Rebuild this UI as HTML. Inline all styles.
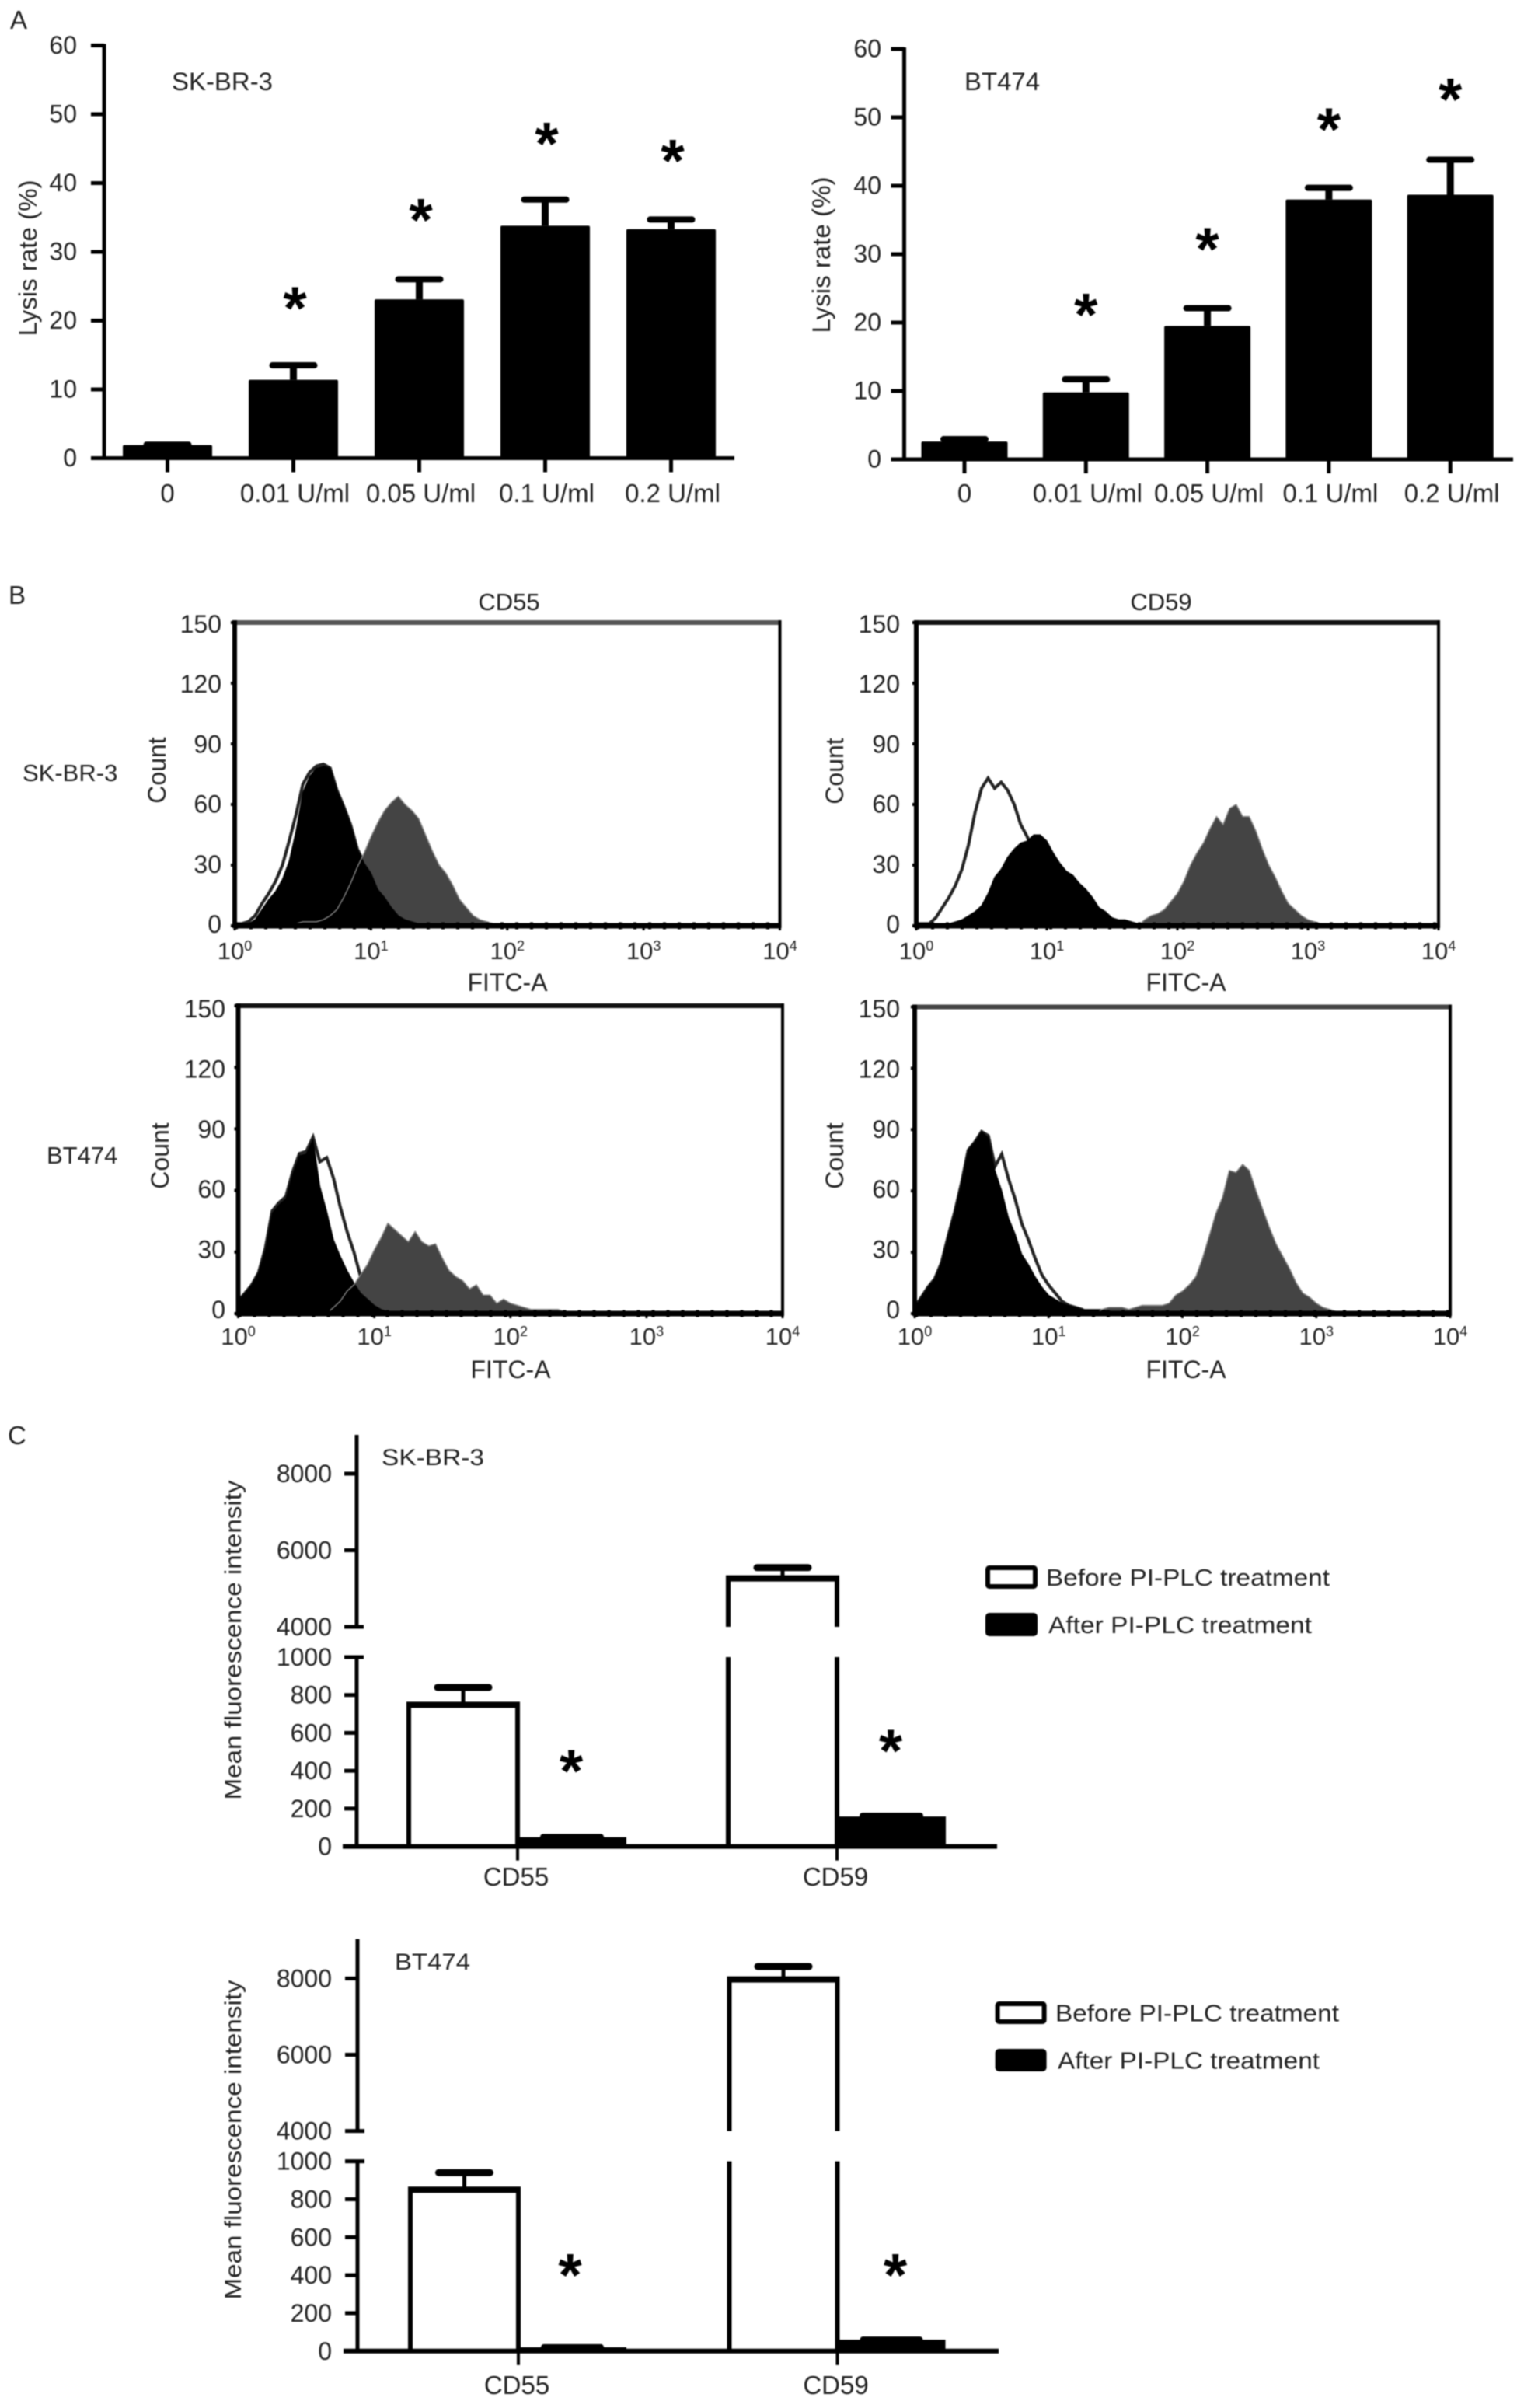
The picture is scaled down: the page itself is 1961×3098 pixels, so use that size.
<!DOCTYPE html>
<html lang="en">
<head>
<meta charset="utf-8">
<title>Lysis rate and CD55/CD59 expression after PI-PLC treatment</title>
<style>
html,body{margin:0;padding:0;background:#fff;width:1961px;height:3098px;overflow:hidden}
svg{display:block;filter:blur(0.7px)}
text{font-family:"Liberation Sans",Arial,sans-serif;fill:#222}
</style>
</head>
<body>
<svg id="figure" xmlns="http://www.w3.org/2000/svg" width="1961" height="3098" viewBox="0 0 1961 3098"></svg>
<script>
/* ---------- Panel A data ---------- */
const doseCategories = ["0", "0.01 U/ml", "0.05 U/ml", "0.1 U/ml", "0.2 U/ml"];
const lysisTicks = [0, 10, 20, 30, 40, 50, 60];
const lysisSkbr3 = [1.9, 11.4, 23.1, 33.8, 33.3];
const lysisSkbr3Err = [1.95, 13.5, 26.0, 37.6, 34.7];
const lysisSkbr3Stars = [null, 22.9, 35.7, 46.8, 44.3];
const lysisBt474 = [2.6, 9.8, 19.5, 38.0, 38.7];
const lysisBt474Err = [2.95, 11.7, 22.1, 39.7, 43.8];
const lysisBt474Stars = [null, 22.2, 31.8, 49.3, 53.7];

/* ---------- Panel B data: counts in 0.05-decade bins starting at 10^0 ---------- */
const countTicks = [0, 30, 60, 90, 120, 150];
const decadeTicks = [0, 1, 2, 3, 4];
const skCd55Outline = [1,1,2,5,11,16,22,30,42,55,70,76,79,80,78,67,59,50,38,31,26,18,14,9,5,3,2,1,1];
const skCd55Black = [1,1,1,3,8,13,17,23,32,47,66,74,78,79,78,67,59,50,38,31,26,18,14,9,5,3,2,1,1];
const skCd55Gray = [0,0,0,0,0,0,0,1,1,1,2,2,2,3,5,8,14,21,29,36,44,51,57,61,64,60,57,53,45,37,30,26,20,13,9,5,3,2,1,1];
const skCd59Outline = [1,1,1,4,9,14,20,28,40,56,68,73,68,71,67,60,50,44,36,28,20,14,9,6,4,2,1,1];
const skCd59Black = [1,1,1,1,1,1,2,3,5,7,10,16,24,28,34,38,41,42,45,45,42,36,31,27,25,21,18,14,9,7,4,3,3,2,1,1];
const skCd59Gray = [0,0,0,0,0,0,0,0,0,0,0,0,0,0,0,0,0,0,0,0,0,0,0,0,0,0,0,0,0,0,0,0,0,0,0,3,5,6,8,12,16,22,30,36,41,48,54,50,58,60,54,54,47,38,30,24,17,11,8,5,3,2,1,1];
const btCd55Outline = [6,10,14,20,32,50,54,57,69,78,79,86,74,76,66,52,40,30,18,11,7,3,1];
const btCd55Black = [6,10,14,20,31,49,53,56,68,77,78,85,62,50,36,28,21,15,10,7,4,2,1];
const btCd55Gray = [0,0,0,0,0,0,0,0,0,0,0,0,0,0,3,6,11,14,19,24,31,37,44,41,38,35,40,35,33,34,27,21,18,16,12,14,9,9,5,7,5,4,3,2,2,2,2,2,1];
const btCd59Outline = [3,8,13,17,25,38,50,64,80,84,89,87,72,78,66,56,44,36,27,19,14,10,6,4,3,2];
const btCd59Black = [3,8,13,17,25,38,50,64,80,84,89,86,70,60,47,39,29,24,18,13,9,7,5,4,3,2,2,2,2,1];
const btCd59Gray = [0,0,0,0,0,0,0,0,0,0,0,0,0,0,0,0,0,0,0,0,0,0,0,0,0,0,0,0,2,3,3,3,2,3,4,4,4,4,5,9,11,14,18,27,38,49,57,70,69,73,70,60,51,42,34,28,22,15,10,8,5,3,2,1];

/* ---------- Panel C data ---------- */
const markerCategories = ["CD55", "CD59"];
const mfiLowerTicks = [0, 200, 400, 600, 800, 1000];
const mfiUpperTicks = [4000, 6000, 8000];
const skBefore = [748, 5266];
const skBeforeErr = [840, 5548];
const skAfter = [49, 158];
const skAfterErr = [50, 162];
const skAfterStars = [438, 545];
const btBefore = [850, 7975];
const btBeforeErr = [940, 8315];
const btAfter = [20, 60];
const btAfterErr = [20, 60];
const btAfterStars = [439, 439];
const legendLabels = ["Before PI-PLC treatment", "After PI-PLC treatment"];

/* ---------- Helpers ---------- */
const NS = "http://www.w3.org/2000/svg";
const root = document.getElementById("figure");
const INK = "#000";

function add(parent, tag, attrs, name) {
  const el = document.createElementNS(NS, tag);
  for (const k in attrs) el.setAttribute(k, attrs[k]);
  
  
  parent.appendChild(el);
  return el;
}
function group(parent, name) {
  return add(parent, "g", {}, name);
}
function line(parent, x1, y1, x2, y2, w, name, extra) {
  return add(parent, "line", Object.assign({x1, y1, x2, y2, stroke: INK, "stroke-width": w}, extra || {}), name);
}
function text(parent, x, y, str, size, anchor, name, len) {
  const attrs = {x, y, "font-size": size, "text-anchor": anchor};
  if (len) { attrs.textLength = len; attrs.lengthAdjust = "spacingAndGlyphs"; }
  const el = add(parent, "text", attrs, name);
  el.textContent = str;
  return el;
}
function vtext(parent, x, cy, str, size, name, len) {
  const attrs = {x: 0, y: 0, "font-size": size, "text-anchor": "middle", transform: "translate(" + x + "," + cy + ") rotate(-90)", fill: "#333"};
  if (len) { attrs.textLength = len; attrs.lengthAdjust = "spacingAndGlyphs"; }
  const el = add(parent, "text", attrs, name);
  el.textContent = str;
  return el;
}
function star(parent, cx, cy, name) {
  const el = add(parent, "text", {x: cx, y: cy + 36, "font-size": 78, "font-weight": "bold", "text-anchor": "middle", style: "fill:#000"}, name);
  el.textContent = "*";
  return el;
}

/* ---------- Panel A: bars ---------- */
function drawLysis(cfg, values, errs, stars) {
  const g = group(root, cfg.name);
  const y = v => cfg.y0 - v * cfg.unit;
  const xc = i => cfg.first + i * cfg.step;
  line(g, cfg.axisX, y(60) - 2, cfg.axisX, cfg.y0 + 2, 5, "y-axis");
  line(g, cfg.axisX - 17, cfg.y0, cfg.axisEnd, cfg.y0, 5, "x-axis");
  lysisTicks.forEach(t => {
    line(g, cfg.axisX - 17, y(t), cfg.axisX, y(t), 5, "y-tick-" + t);
    text(g, cfg.labelX, y(t) + 10.5, String(t), 32, "end", "y-tick-label-" + t);
  });
  doseCategories.forEach((c, i) => {
    line(g, xc(i), cfg.y0, xc(i), cfg.y0 + 18, 5, "x-tick-" + i);
    text(g, xc(i) + (i === 0 ? 0 : 2), 646, c, 33, "middle", "x-tick-label-" + i);
    add(g, "rect", {x: xc(i) - cfg.bar / 2, y: y(values[i]), width: cfg.bar, height: cfg.y0 - y(values[i]), fill: INK, rx: 2}, "bar-" + i);
    line(g, xc(i), y(values[i]), xc(i), y(errs[i]), 9, "error-stem-" + i);
    line(g, xc(i) - 27, y(errs[i]), xc(i) + 27, y(errs[i]), 8, "error-cap-" + i, {"stroke-linecap": "round"});
    if (stars[i] !== null) star(g, xc(i) + cfg.starDx, y(stars[i]), "significance-star-" + i);
  });
  vtext(g, cfg.titleX, cfg.titleY, "Lysis rate (%)", 32, "y-axis-title", 201);
  text(g, cfg.capX, cfg.capY, cfg.cell, 32, "start", "cell-line-label", cfg.capLen);
}
drawLysis({name: "panel-a-skbr3", y0: 589.5, unit: 8.85, axisX: 134, axisEnd: 945, first: 215.5, step: 162, bar: 115, labelX: 99, titleX: 47, titleY: 332, capX: 221, capY: 116, cell: "SK-BR-3", capLen: 130, starDx: 2}, lysisSkbr3, lysisSkbr3Err, lysisSkbr3Stars);
drawLysis({name: "panel-a-bt474", y0: 591, unit: 8.8, axisX: 1163.5, axisEnd: 1947, first: 1241, step: 156.3, bar: 111, labelX: 1134, titleX: 1068, titleY: 328, capX: 1241, capY: 116, cell: "BT474", capLen: 97, starDx: 0}, lysisBt474, lysisBt474Err, lysisBt474Stars);

/* ---------- Panel B: flow histograms ---------- */
function histPoints(cfg, series) {
  const binDecades = 0.05;
  const x = d => cfg.left + d * (cfg.right - cfg.left) / 4;
  const y = c => cfg.bottom - c * (cfg.bottom - cfg.top) / 150;
  const pts = series.map((v, i) => x(i * binDecades).toFixed(1) + "," + y(v).toFixed(1));
  pts.push(x(series.length * binDecades).toFixed(1) + "," + cfg.bottom);
  pts.unshift(x(0).toFixed(1) + "," + cfg.bottom);
  return pts.join(" ");
}
function drawHist(cfg, outline, gray, black) {
  const g = group(root, cfg.name);
  const y = c => cfg.bottom - c * (cfg.bottom - cfg.top) / 150;
  const x = d => cfg.left + d * (cfg.right - cfg.left) / 4;
  const labelY = c => cfg.labelBottom - c * (cfg.labelBottom - cfg.labelTop) / 150;
  add(g, "polygon", {points: histPoints(cfg, outline), fill: "#fff", stroke: "#222", "stroke-width": 4}, "control-histogram-outline");
  add(g, "polygon", {points: histPoints(cfg, gray), fill: "#444", stroke: "#444", "stroke-width": 1}, "before-treatment-histogram");
  add(g, "polygon", {points: histPoints(cfg, black), fill: "#000", stroke: "#000", "stroke-width": 1}, "after-treatment-histogram");
  add(g, "polyline", {points: histPoints(cfg, gray), fill: "none", stroke: "#888", "stroke-width": 1.4}, "before-treatment-edge");
  line(g, cfg.left, cfg.top, cfg.right, cfg.top, 6, "frame-top", {stroke: cfg.topColor});
  line(g, cfg.left, cfg.top - 3, cfg.left, cfg.bottom + 3, 6, "frame-left");
  line(g, cfg.right, cfg.top - 3, cfg.right, cfg.bottom + 3, 4, "frame-right");
  line(g, cfg.left, cfg.bottom, cfg.right, cfg.bottom, 7, "frame-bottom");
  line(g, cfg.left, cfg.bottom, cfg.right, cfg.bottom, 9, "frame-bottom-noise", {"stroke-dasharray": "4 15"});
  countTicks.forEach(t => {
    line(g, cfg.left - 5, y(t), cfg.left, y(t), 4, "count-tick-" + t);
    text(g, cfg.labelX, labelY(t) + 11, String(t), 32, "end", "count-tick-label-" + t);
  });
  decadeTicks.forEach(d => {
    line(g, x(d), cfg.bottom, x(d), cfg.bottom + 6, 3, "fitc-tick-" + d);
    const t = text(g, x(d), cfg.tickY, "10", 31, "middle", "fitc-tick-label-" + d);
    const s = add(t, "tspan", {dy: -11, "font-size": 18}, "fitc-tick-exponent-" + d);
    s.textContent = String(d);
  });
  text(g, cfg.fitcX, cfg.fitcY, "FITC-A", 32, "middle", "x-axis-title");
  vtext(g, cfg.countX, cfg.countY, "Count", 32, "y-axis-title");
  if (cfg.title) text(g, cfg.titleX, 785, cfg.title, 31, "middle", "marker-title");
  if (cfg.rowLabel) text(g, cfg.rowX, cfg.rowY, cfg.rowLabel, 31, "start", "cell-line-label");
}
drawHist({name: "panel-b-skbr3-cd55", left: 302, right: 1003.5, top: 801, bottom: 1191, labelTop: 803, labelBottom: 1189, topColor: "#555", labelX: 285, tickY: 1234, fitcX: 653, fitcY: 1275, countX: 213, countY: 991, title: "CD55", titleX: 655, rowLabel: "SK-BR-3", rowX: 29, rowY: 1005}, skCd55Outline, skCd55Gray, skCd55Black);
drawHist({name: "panel-b-skbr3-cd59", left: 1179, right: 1851, top: 801, bottom: 1191, labelTop: 803, labelBottom: 1189, topColor: "#111", labelX: 1158, tickY: 1234, fitcX: 1526, fitcY: 1275, countX: 1085, countY: 992, title: "CD59", titleX: 1494}, skCd59Outline, skCd59Gray, skCd59Black);
drawHist({name: "panel-b-bt474-cd55", left: 306.5, right: 1007, top: 1294, bottom: 1690, labelTop: 1298, labelBottom: 1685, topColor: "#111", labelX: 290, tickY: 1730, fitcX: 657, fitcY: 1773, countX: 217, countY: 1487, rowLabel: "BT474", rowX: 60, rowY: 1497}, btCd55Outline, btCd55Gray, btCd55Black);
drawHist({name: "panel-b-bt474-cd59", left: 1177, right: 1866, top: 1295.5, bottom: 1690, labelTop: 1298, labelBottom: 1685, topColor: "#444", labelX: 1158, tickY: 1730, fitcX: 1526, fitcY: 1773, countX: 1085, countY: 1487}, btCd59Outline, btCd59Gray, btCd59Black);

/* ---------- Panel C: broken-axis bars ---------- */
function drawMfi(cfg, before, beforeErr, after, afterErr, stars) {
  const g = group(root, cfg.name);
  const yLow = v => cfg.y0 - v * (cfg.y0 - cfg.y1000) / 1000;
  const yHigh = v => cfg.y4000 - (v - 4000) * (cfg.y4000 - cfg.y8000) / 4000;
  const y = v => v > 1000 ? yHigh(v) : yLow(v);
  const xc = i => cfg.first + i * cfg.step;
  const w = cfg.bar;

  line(g, cfg.axisX, cfg.axisTop, cfg.axisX, cfg.y4000, 5, "y-axis-upper");
  line(g, cfg.axisX, cfg.y1000, cfg.axisX, cfg.y0, 5, "y-axis-lower");
  line(g, cfg.axisX - 18, cfg.y0, cfg.axisEnd, cfg.y0, 6, "x-axis");
  mfiUpperTicks.forEach(t => {
    line(g, cfg.axisX - 16, yHigh(t), cfg.axisX + (t === 4000 ? 9 : 0), yHigh(t), 5, "y-tick-" + t);
    text(g, 427, yHigh(t) + 11, String(t), 32, "end", "y-tick-label-" + t);
  });
  mfiLowerTicks.forEach(t => {
    line(g, cfg.axisX - 16, yLow(t), cfg.axisX + (t === 1000 ? 9 : 0), yLow(t), 5, "y-tick-" + t);
    text(g, 427, yLow(t) + 11, String(t), 32, "end", "y-tick-label-" + t);
  });
  markerCategories.forEach((c, i) => {
    const cx = xc(i);
    const top = y(before[i]);
    if (before[i] > 1000) {
      line(g, cx - w, top, cx - w, cfg.y4000, 6, "before-bar-left-upper-" + c);
      line(g, cx, top, cx, cfg.y4000, 6, "before-bar-right-upper-" + c);
      line(g, cx - w, cfg.y1000, cx - w, cfg.y0, 6, "before-bar-left-lower-" + c);
      line(g, cx, cfg.y1000, cx, cfg.y0, 6, "before-bar-right-lower-" + c);
    } else {
      line(g, cx - w, top, cx - w, cfg.y0, 6, "before-bar-left-" + c);
      line(g, cx, top, cx, cfg.y0, 6, "before-bar-right-" + c);
    }
    line(g, cx - w - 3, top, cx + 3, top, 8, "before-bar-top-" + c);
    line(g, cx - w / 2, top, cx - w / 2, y(beforeErr[i]), 5, "before-error-stem-" + c);
    line(g, cx - w / 2 - 33, y(beforeErr[i]), cx - w / 2 + 33, y(beforeErr[i]), 9, "before-error-cap-" + c, {"stroke-linecap": "round"});

    add(g, "rect", {x: cx, y: y(after[i]), width: w, height: cfg.y0 - y(after[i]), fill: INK}, "after-bar-" + c);
    line(g, cx + 33, y(afterErr[i]), cx + w - 33, y(afterErr[i]), 8, "after-error-cap-" + c, {"stroke-linecap": "round"});

    line(g, cx, cfg.y0, cx, cfg.y0 + 18, 4, "x-tick-" + c);
    text(g, cx - 2, cfg.labelY, c, 33, "middle", "x-tick-label-" + c);
    star(g, cx + w / 2 + cfg.starDx[i], y(stars[i]), "significance-star-" + c);
  });
  vtext(g, 310, cfg.titleY, "Mean fluorescence intensity", 30, "y-axis-title", 411);
  text(g, cfg.capX, cfg.capY, cfg.cell, 30, "start", "cell-line-label", cfg.capLen);

  const lg = group(g, "legend");
  legendLabels.forEach((label, i) => {
    const e = group(lg, i === 0 ? "legend-entry-before" : "legend-entry-after");
    add(e, "rect", {x: cfg.legX + 2, y: cfg.legY[i] + 3, width: cfg.legW - 4, height: cfg.legH - 6, fill: i === 0 ? "#fff" : "#000", stroke: "#000", "stroke-width": 6, rx: 2}, "legend-swatch");
    text(e, cfg.legTextX[i], cfg.legY[i] + cfg.legH / 2 + 11, label, 31, "start", "legend-label", cfg.legLen[i]);
  });
}
drawMfi({name: "panel-c-skbr3", y0: 2375.6, y1000: 2132, y4000: 2093, y8000: 1896, axisX: 459, axisTop: 1846, axisEnd: 1283, first: 666, step: 411, bar: 140, labelY: 2426, starDx: [-1, -1], titleY: 2110, capX: 491, capY: 1885, cell: "SK-BR-3", capLen: 132, legX: 1269, legY: [2014, 2075], legW: 65, legH: 30, legTextX: [1346, 1349], legLen: [365, 339]}, skBefore, skBeforeErr, skAfter, skAfterErr, skAfterStars);
drawMfi({name: "panel-c-bt474", y0: 3024.8, y1000: 2780.6, y4000: 2741.6, y8000: 2545.4, axisX: 460, axisTop: 2494.6, axisEnd: 1285, first: 667, step: 410.5, bar: 139, labelY: 3080, starDx: [-3, 5], titleY: 2753, capX: 508, capY: 2534, cell: "BT474", capLen: 97, legX: 1281.6, legY: [2575, 2636], legW: 64, legH: 29, legTextX: [1358, 1361], legLen: [365, 337]}, btBefore, btBeforeErr, btAfter, btAfterErr, btAfterStars);

/* ---------- Panel letters ---------- */
text(root, 13, 37, "A", 33, "start", "panel-letter-a");
text(root, 11, 777, "B", 33, "start", "panel-letter-b");
text(root, 10, 1858, "C", 33, "start", "panel-letter-c");
</script>
</body>
</html>
